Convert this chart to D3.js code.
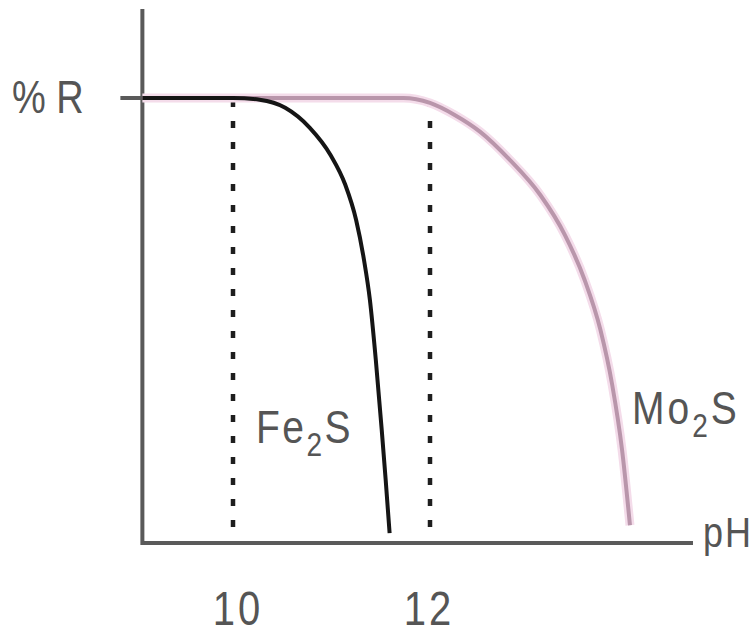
<!DOCTYPE html>
<html>
<head>
<meta charset="utf-8">
<script src="https://cdn.jsdelivr.net/npm/d3@7"></script>
<style>
  html, body { margin: 0; padding: 0; background: #fff; }
  svg { display: block; }
  .lbl { font-family: "Liberation Sans", Arial, sans-serif; fill: #555; }
</style>
</head>
<body>
<svg id="chart" width="756" height="637"></svg>
<script>
// pH values where the recovery curves are sampled
const fe2sPH = [9.08, 9.5, 10.0, 10.27, 10.53, 10.78, 10.99, 11.14, 11.25, 11.33, 11.39, 11.45, 11.51, 11.55, 11.59];
const fe2sR  = [100, 100, 100, 99.6, 97.8, 93.3, 87.2, 80.5, 72.6, 63.6, 54.6, 41.1, 25.4, 14.2, 2.2];
const mo2sPH = [9.08, 9.6, 10.2, 10.8, 11.3, 11.73, 12.0, 12.25, 12.51, 12.81, 13.12, 13.37, 13.57, 13.73, 13.85, 13.95, 14.03];
const mo2sR  = [100, 100, 100, 100, 100, 100, 98.9, 96.2, 92.4, 86.1, 78.2, 69.2, 59.1, 47.9, 35.5, 20.9, 4.0];
// marked critical pH values and the axis tick
const pHTicks = [10, 12];
const rTicks = [100];
const rTickLabel = "% R";
const axisEnds = { pHMin: 9.08, pHMax: 14.67, rMax: 120 };

const svg = d3.select("#chart");
const x = d3.scaleLinear().domain([10, 12]).range([233, 430]);
const y = d3.scaleLinear().domain([0, 100]).range([543, 98]);
const axisColor = "#5a5a5a";

// axes lines
svg.append("line")
  .attr("x1", x(axisEnds.pHMin)).attr("x2", x(axisEnds.pHMax))
  .attr("y1", y(0)).attr("y2", y(0))
  .attr("stroke", axisColor).attr("stroke-width", 4);
svg.append("line")
  .attr("x1", x(axisEnds.pHMin)).attr("x2", x(axisEnds.pHMin))
  .attr("y1", y(0) + 2).attr("y2", y(axisEnds.rMax))
  .attr("stroke", axisColor).attr("stroke-width", 4);

// %R tick
svg.selectAll(".rtick").data(rTicks).join("line")
  .attr("class", "rtick")
  .attr("x1", x(axisEnds.pHMin) - 22).attr("x2", x(axisEnds.pHMin))
  .attr("y1", d => y(d)).attr("y2", d => y(d))
  .attr("stroke", axisColor).attr("stroke-width", 4);

// dotted drop lines at the critical pH
svg.selectAll(".drop").data(pHTicks).join("line")
  .attr("class", "drop")
  .attr("x1", d => x(d)).attr("x2", d => x(d))
  .attr("y1", y(100) + 2).attr("y2", y(0) - 2)
  .attr("stroke", "#1e1e1e").attr("stroke-width", 4.5)
  .attr("stroke-dasharray", "7,14");

const line = d3.line()
  .x(d => x(d[0])).y(d => y(d[1]))
  .curve(d3.curveMonotoneX);

const mo2s = mo2sPH.map((p, i) => [p, mo2sR[i]]);
const fe2s = fe2sPH.map((p, i) => [p, fe2sR[i]]);

// Mo2S curve (pink, with soft halo)
svg.append("path").datum(mo2s)
  .attr("d", line).attr("fill", "none")
  .attr("stroke", "#f4dcea").attr("stroke-width", 9);
svg.append("path").datum(mo2s)
  .attr("d", line).attr("fill", "none")
  .attr("stroke", "#b996ab").attr("stroke-width", 4);

// Fe2S curve (black)
svg.append("path").datum(fe2s)
  .attr("d", line).attr("fill", "none")
  .attr("stroke", "#151515").attr("stroke-width", 4);

function label(px, py, size, parts, anchor, spacing, sy) {
  const g = svg.append("g")
    .attr("transform", `translate(${px},${py}) scale(1,${sy || 1.2})`);
  const t = g.append("text").attr("class", "lbl")
    .attr("font-size", size)
    .attr("letter-spacing", spacing || 0)
    .attr("text-anchor", anchor || "start");
  parts.forEach(p => {
    if (p.sub) {
      t.append("tspan").attr("font-size", size * 0.72).attr("dy", size * 0.28).text(p.t);
    } else {
      t.append("tspan").attr("dy", p.after ? -size * 0.28 : 0).text(p.t);
    }
  });
  return t;
}

label(12, 113, 38, [{ t: rTickLabel }]);
label(256, 443, 39, [{ t: "Fe" }, { t: "2", sub: true }, { t: "S", after: true }], "start", 2.5);
label(632, 424, 39, [{ t: "Mo" }, { t: "2", sub: true }, { t: "S", after: true }], "start", 3);
label(703, 547, 36, [{ t: "pH" }], "start", 2);

// pH tick labels
pHTicks.forEach((v, i) => {
  label(x(v) + (i === 0 ? 5 : -1), 625, 40, [{ t: String(v) }], "middle", 3, 1.22);
});
</script>
</body>
</html>
